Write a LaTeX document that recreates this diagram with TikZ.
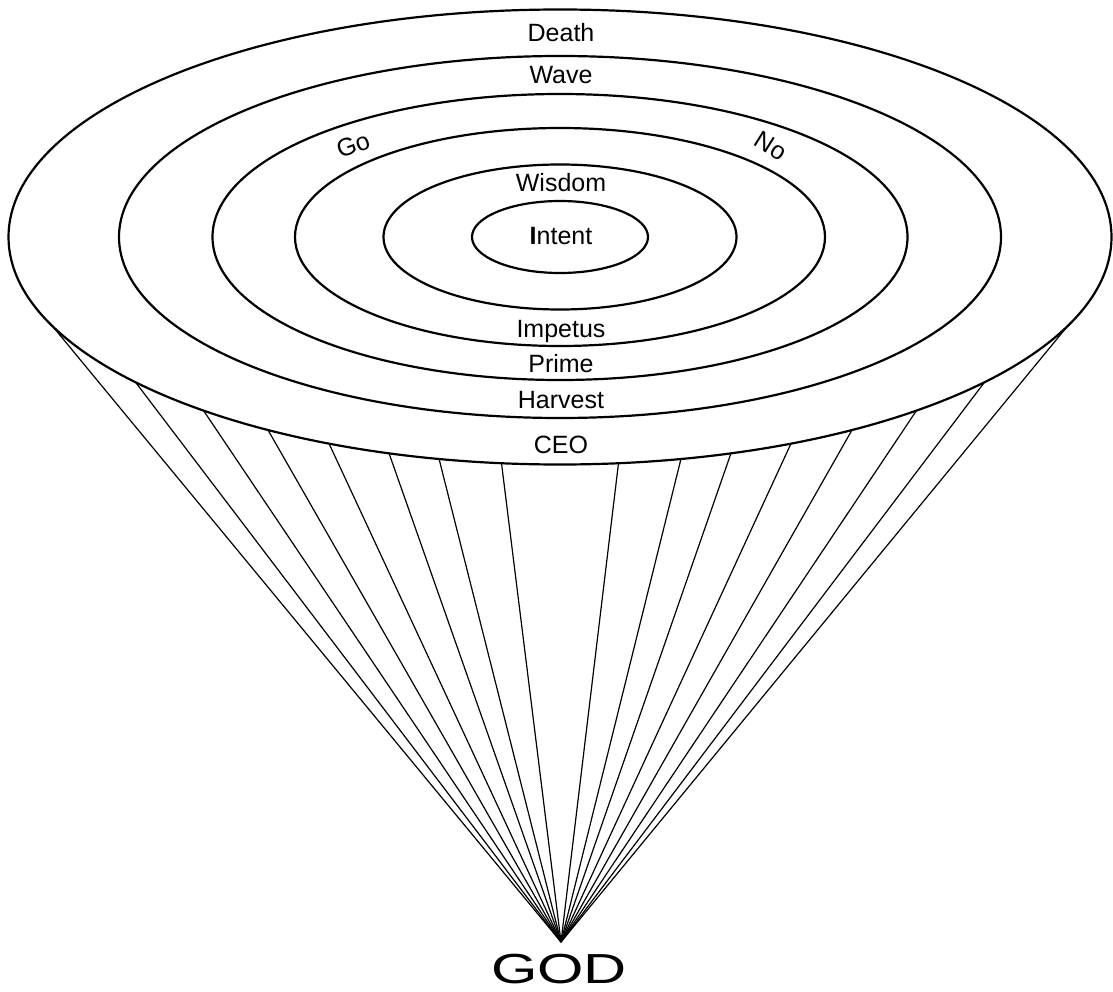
\documentclass[tikz,border=0pt]{standalone}
\usepackage{fontspec}
\usepackage{graphicx}
\setmainfont{Liberation Sans}
\usetikzlibrary{calc}
\begin{document}
\begin{tikzpicture}[x=1pt,y=-1pt,
  ring/.style={line width=2.2pt},
  ray/.style={line width=1.2pt},
  lbl/.style={inner sep=0pt,anchor=base,font=\fontsize{25}{30}\selectfont},
  tilted/.style={inner sep=0pt,anchor=center,font=\fontsize{25}{30}\selectfont}]
\useasboundingbox (0,0) rectangle (1113,992);
\coordinate (c) at (560,237);
\coordinate (apex) at (561,942);
% rings
\draw[ring] (c) ellipse [x radius=551.5pt, y radius=227.5pt];
\draw[ring] (c) ellipse [x radius=441pt, y radius=181pt];
\draw[ring] (c) ellipse [x radius=347.5pt, y radius=143pt];
\draw[ring] (c) ellipse [x radius=265pt, y radius=109pt];
\draw[ring] (c) ellipse [x radius=176.5pt, y radius=72.5pt];
\draw[ring] (c) ellipse [x radius=88pt, y radius=36pt];
% rays
\foreach \t [count=\i] in {22.9,39.67,49.73,58.03,65.24,71.94,77.33,83.91}{
  \coordinate (L\i) at ($(c)+(180+\t:551.5pt and 227.5pt)$);
  \coordinate (R\i) at ($(c)+(360-\t:551.5pt and 227.5pt)$);
  \draw[ray] (L\i) -- (apex);
  \draw[ray] (R\i) -- (apex);
}
% labels
\node[lbl] (death) at (561,42) {Death};
\node[lbl] (wave) at (561,84) {Wave};
\node[tilted,rotate=20] (go) at (353,145) {Go};
\node[tilted,rotate=-32] (no) at (771,146) {No};
\node[lbl] (wisdom) at (561,192) {Wisdom};
\node[lbl] (intent) at (561,245) {\textbf{I}ntent};
\node[lbl] (impetus) at (561,337) {Impetus};
\node[lbl] (prime) at (561,372) {Prime};
\node[lbl] (harvest) at (561,408) {Harvest};
\node[lbl] (ceo) at (561,453) {CEO};
\node[inner sep=0pt,anchor=base,font=\fontsize{42}{48}\selectfont] (god) at (559,983) {\scalebox{1.42}[1]{GOD}};
\end{tikzpicture}
\end{document}
